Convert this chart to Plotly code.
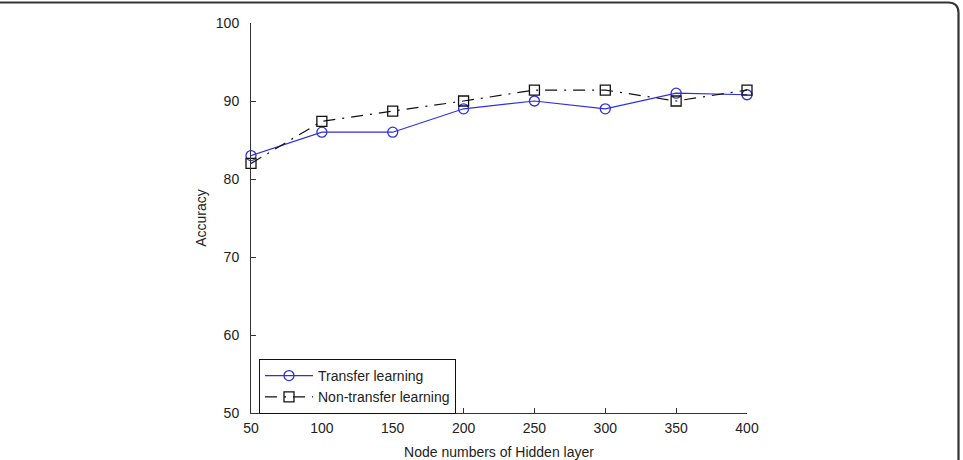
import plotly.graph_objects as go

nodes = [50, 100, 150, 200, 250, 300, 350, 400]
transfer = [83.0, 86.0, 86.0, 89.0, 90.0, 89.0, 91.0, 90.8]
non_transfer = [82.0, 87.4, 88.7, 90.0, 91.4, 91.4, 90.0, 91.4]
x_ticks = [50, 100, 150, 200, 250, 300, 350, 400]
y_ticks = [50, 60, 70, 80, 90, 100]

fig = go.Figure()
fig.add_trace(go.Scatter(
    x=nodes, y=transfer, name="Transfer learning", mode="lines+markers",
    line=dict(color="#2f2fe0", width=1.2), cliponaxis=False,
    marker=dict(symbol="circle-open", size=10, color="#2f2fe0", line=dict(width=1.3)),
))
fig.add_trace(go.Scatter(
    x=nodes, y=non_transfer, name="Non-transfer learning", mode="lines+markers",
    line=dict(color="#111111", width=1.2, dash="12px,7px,2px,7px"), cliponaxis=False,
    marker=dict(symbol="square-open", size=10, color="#111111", line=dict(width=1.3)),
))

L, R, T, B = 251, 216, 23, 47
W, H = 963, 460
pw, ph = W - L - R, H - T - B

def px(x):
    return (x - L) / pw

def py(y):
    return (H - B - y) / ph

border = (f"M {px(-2)},{py(2.5)} L {px(948)},{py(2.5)} "
          f"Q {px(958.5)},{py(2.5)} {px(958.5)},{py(13)} L {px(958.5)},{py(470)}")

fig.update_layout(
    width=W, height=H,
    margin=dict(l=L, r=R, t=T, b=B, autoexpand=False),
    paper_bgcolor="white", plot_bgcolor="white",
    font=dict(family="Liberation Sans, Arial, sans-serif", size=14, color="#222"),
    showlegend=True,
    legend=dict(x=px(259), y=py(359), xanchor="left", yanchor="top",
                bordercolor="#111", borderwidth=1, bgcolor="white",
                font=dict(size=14), tracegroupgap=0, itemwidth=48),
    shapes=[dict(type="path", xref="paper", yref="paper", path=border,
                 line=dict(color="#333", width=2.2))],
)
fig.update_xaxes(
    range=[50, 400], tickvals=x_ticks, ticks="inside", ticklen=5, tickcolor="#333",
    tickfont=dict(size=14), ticklabelstandoff=2, automargin=False,
    showline=True, linecolor="#333", linewidth=1, showgrid=False, zeroline=False,
    title=dict(text="Node numbers of Hidden layer", font=dict(size=14), standoff=14),
)
fig.update_yaxes(
    range=[50, 100], tickvals=y_ticks, ticks="inside", ticklen=5, tickcolor="#333",
    tickfont=dict(size=14), ticklabelstandoff=8, automargin=False,
    showline=True, linecolor="#333", linewidth=1, showgrid=False, zeroline=False,
    title=dict(text="Accuracy", font=dict(size=14), standoff=5),
)
fig.write_html("out.html")
